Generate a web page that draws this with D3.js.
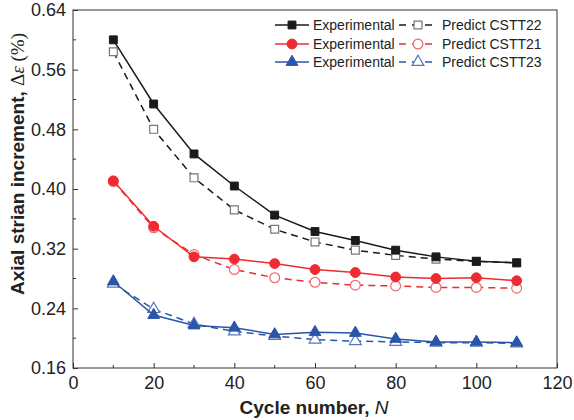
<!DOCTYPE html>
<html>
<head>
<meta charset="utf-8">
<script src="https://cdn.jsdelivr.net/npm/d3@7"></script>
<style>
  body { margin: 0; background: #fff; }
  text { font-family: Arial, "Liberation Sans", sans-serif; }
</style>
</head>
<body>
<script>
const width = 574, height = 420;
const margin = {top: 10, right: 17, bottom: 52, left: 73};

// data
const cycles = [10, 20, 30, 40, 50, 60, 70, 80, 90, 100, 110];
const expCSTT22 = [0.600, 0.514, 0.447, 0.404, 0.365, 0.343, 0.331, 0.318, 0.309, 0.303, 0.301];
const preCSTT22 = [0.584, 0.480, 0.415, 0.372, 0.346, 0.329, 0.318, 0.311, 0.306, 0.303, 0.301];
const expCSTT21 = [0.411, 0.350, 0.309, 0.306, 0.300, 0.292, 0.288, 0.282, 0.280, 0.281, 0.277];
const preCSTT21 = [0.410, 0.348, 0.312, 0.292, 0.281, 0.275, 0.271, 0.270, 0.268, 0.268, 0.267];
const expCSTT23 = [0.276, 0.231, 0.217, 0.214, 0.205, 0.208, 0.207, 0.199, 0.195, 0.195, 0.194];
const preCSTT23 = [0.273, 0.239, 0.219, 0.209, 0.203, 0.198, 0.196, 0.195, 0.194, 0.194, 0.193];
const xTicks = [0, 20, 40, 60, 80, 100, 120];
const yTicks = [0.16, 0.24, 0.32, 0.40, 0.48, 0.56, 0.64];

const series = [
  {name: "Experimental", vals: expCSTT22, color: "#1a1a1a", mark: "square", filled: true, dash: null},
  {name: "Predict CSTT22", vals: preCSTT22, color: "#1a1a1a", mstroke: "#777", mark: "square", filled: false, dash: "7,5"},
  {name: "Experimental", vals: expCSTT21, color: "#ee2b30", mark: "circle", filled: true, dash: null},
  {name: "Predict CSTT21", vals: preCSTT21, color: "#ee2b30", mstroke: "#f06a6e", mark: "circle", filled: false, dash: "7,5"},
  {name: "Experimental", vals: expCSTT23, color: "#2b55a8", mark: "triangle", filled: true, dash: null},
  {name: "Predict CSTT23", vals: preCSTT23, color: "#2b55a8", mstroke: "#5577bb", mark: "triangle", filled: false, dash: "7,5"}
];

const x = d3.scaleLinear().domain([0, 120]).range([margin.left, width - margin.right]);
const y = d3.scaleLinear().domain([0.16, 0.64]).range([height - margin.bottom, margin.top]);

const svg = d3.select("body").append("svg")
    .attr("width", width)
    .attr("height", height);

const symType = {square: d3.symbolSquare, circle: d3.symbolCircle, triangle: d3.symbolTriangle};
const symSize = {square: 62, circle: 76, triangle: 60};

function drawMarker(g, s, cx, cy) {
  g.append("path")
    .attr("d", d3.symbol().type(symType[s.mark]).size(symSize[s.mark])())
    .attr("transform", `translate(${cx},${cy})`)
    .attr("fill", s.filled ? s.color : "#fff")
    .attr("stroke", s.filled ? s.color : s.mstroke)
    .attr("stroke-width", s.filled ? 1 : 1.2);
}

// lines (experimental drawn after predictions)
const line = d3.line()
    .x((d, i) => x(cycles[i]))
    .y(d => y(d));

const order = [1, 0, 3, 2, 5, 4];
order.forEach(k => {
  const s = series[k];
  const g = svg.append("g");
  g.append("path")
    .datum(s.vals)
    .attr("d", line)
    .attr("fill", "none")
    .attr("stroke", s.color)
    .attr("stroke-width", 1.5)
    .attr("stroke-dasharray", s.dash);
  s.vals.forEach((v, i) => drawMarker(g, s, x(cycles[i]), y(v)));
});

// frame
svg.append("rect")
    .attr("x", margin.left)
    .attr("y", margin.top)
    .attr("width", width - margin.left - margin.right)
    .attr("height", height - margin.top - margin.bottom)
    .attr("fill", "none")
    .attr("stroke", "#333")
    .attr("stroke-width", 1);

// axes, ticks pointing inward
const xAxis = svg.append("g")
    .attr("transform", `translate(0,${height - margin.bottom})`)
    .call(d3.axisBottom(x).tickValues(xTicks).tickSize(-5).tickPadding(8).tickFormat(d3.format("d")));
xAxis.append("g").selectAll("line")
  .data(d3.range(10, 120, 20))
  .join("line")
    .attr("x1", d => x(d)).attr("x2", d => x(d))
    .attr("y1", 0).attr("y2", -3)
    .attr("stroke", "#333");

const yAxis = svg.append("g")
    .attr("transform", `translate(${margin.left},0)`)
    .call(d3.axisLeft(y).tickValues(yTicks).tickSize(-5).tickPadding(7).tickFormat(d3.format(".2f")));
yAxis.append("g").selectAll("line")
  .data(d3.range(0.20, 0.64, 0.08))
  .join("line")
    .attr("y1", d => y(d)).attr("y2", d => y(d))
    .attr("x1", 0).attr("x2", 3)
    .attr("stroke", "#333");

svg.selectAll(".domain").remove();
svg.selectAll(".tick line").attr("stroke", "#333");
svg.selectAll(".tick text")
    .attr("fill", "#222")
    .style("font-size", "18px");

// axis titles
svg.append("text")
    .attr("x", 314)
    .attr("y", 414)
    .attr("text-anchor", "middle")
    .style("font-size", "19px")
    .style("font-weight", "bold")
    .attr("fill", "#222")
    .call(t => {
      t.append("tspan").text("Cycle number, ");
      t.append("tspan").style("font-style", "italic").style("font-weight", "normal").text("N");
    });

svg.append("text")
    .attr("transform", "translate(24,164) rotate(-90)")
    .attr("text-anchor", "middle")
    .style("font-size", "19px")
    .style("font-weight", "bold")
    .attr("fill", "#222")
    .call(t => {
      t.append("tspan").text("Axial strian increment, ");
      t.append("tspan").style("font-family", "'Liberation Serif', 'Times New Roman', serif").style("font-weight", "normal").text("Δ");
      t.append("tspan").style("font-family", "'Liberation Serif', 'Times New Roman', serif").style("font-weight", "normal").style("font-style", "italic").text("ε");
      t.append("tspan").style("font-family", "'Liberation Serif', 'Times New Roman', serif").style("font-weight", "normal").text(" (%)");
    });

// legend
const legend = svg.append("g");
const rowY = [25, 44, 62];
[0, 2, 4].forEach((k, r) => {
  const e = series[k], p = series[k + 1];
  const gy = rowY[r];
  const lg = legend.append("g");
  lg.append("line").attr("x1", 275).attr("x2", 309).attr("y1", gy).attr("y2", gy)
    .attr("stroke", e.color).attr("stroke-width", 1.5);
  drawMarker(lg, e, 292, gy);
  lg.append("text").attr("x", 313).attr("y", gy + 5).style("font-size", "14px").attr("fill", "#222").text(e.name);
  lg.append("line").attr("x1", 399).attr("x2", 433).attr("y1", gy).attr("y2", gy)
    .attr("stroke", p.color).attr("stroke-width", 1.5).attr("stroke-dasharray", "7,6");
  drawMarker(lg, p, 418, gy);
  lg.append("text").attr("x", 442).attr("y", gy + 5).style("font-size", "14px").attr("fill", "#222").text(p.name);
});
</script>
</body>
</html>
